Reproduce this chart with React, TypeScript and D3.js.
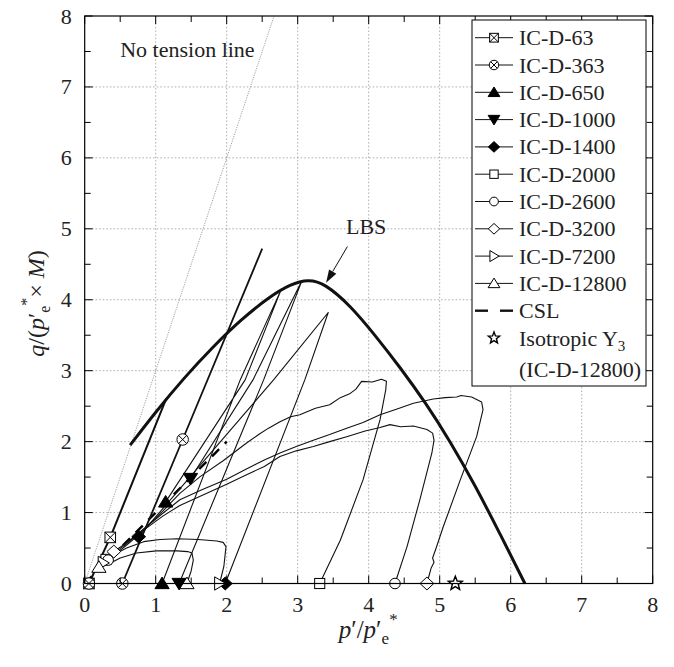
import React from 'react';
import * as d3 from 'd3';

type P = [number, number];

// ---------- data ----------
const xTickValues = [0, 1, 2, 3, 4, 5, 6, 7, 8];
const yTickValues = [0, 1, 2, 3, 4, 5, 6, 7, 8];

const lbsCurve: P[] = [
  [0.64, 1.95], [1.0, 2.42], [1.4, 2.9], [1.8, 3.33], [2.2, 3.72], [2.6, 4.04], [2.9, 4.22],
  [3.15, 4.29], [3.38, 4.23], [3.74, 3.92], [4.09, 3.5], [4.44, 3.05], [4.8, 2.55],
  [5.15, 2.0], [5.5, 1.38], [5.85, 0.7], [6.2, 0],
];
const noTensionLine: P[] = [[0, 0], [2.667, 8]];
const cslLine: P[] = [[0, 0], [2.0, 2.0]];

const path63: P[] = [[0.06, 0], [0.36, 0.65], [1.15, 2.61]];
const path363: P[] = [[0.53, 0], [1.38, 2.03], [2.5, 4.72]];
const path650: P[] = [[1.09, 0], [2.19, 2.87], [2.77, 4.15], [2.26, 2.87], [1.14, 1.15]];
const path1000: P[] = [[1.33, 0], [2.52, 2.87], [3.06, 4.27], [2.37, 2.87], [1.49, 1.48]];
const path1400: P[] = [[1.98, 0], [3.1, 2.87], [3.43, 3.82], [2.66, 2.87], [0.76, 0.66]];
const path2000: P[] = [
  [3.31, 0], [3.6, 0.61], [3.92, 1.46], [4.16, 2.31], [4.24, 2.73], [4.25, 2.85], [4.18, 2.88],
  [4.05, 2.84], [3.9, 2.85], [3.82, 2.74], [3.74, 2.68], [3.6, 2.62], [3.45, 2.52], [3.25, 2.47],
  [3.03, 2.38], [2.9, 2.35], [2.75, 2.28], [2.59, 2.19], [2.45, 2.1], [2.28, 1.98], [1.95, 1.73],
  [1.63, 1.51], [1.34, 1.27], [1.1, 1.02], [0.87, 0.8], [0.6, 0.57], [0.3, 0.34],
];
const path2600: P[] = [
  [4.37, 0], [4.54, 0.52], [4.72, 1.18], [4.89, 1.84], [4.92, 2.02], [4.9, 2.12], [4.82, 2.17],
  [4.63, 2.22], [4.45, 2.21], [4.3, 2.24], [4.16, 2.2], [3.95, 2.15], [3.69, 2.07], [3.45, 2.0],
  [3.22, 1.93], [2.98, 1.87], [2.75, 1.79], [2.53, 1.65], [2.25, 1.52], [2.0, 1.4], [1.65, 1.24],
  [1.34, 1.1], [1.1, 0.95], [0.87, 0.78], [0.6, 0.55], [0.33, 0.33],
];
const path3200: P[] = [
  [4.82, 0], [4.88, 0.22], [4.92, 0.3], [4.9, 0.36], [4.95, 0.5], [5.05, 0.8], [5.29, 1.46],
  [5.52, 2.07], [5.61, 2.45], [5.59, 2.56], [5.45, 2.63], [5.3, 2.65], [5.24, 2.63], [5.08, 2.62],
  [4.91, 2.6], [4.63, 2.54], [4.4, 2.46], [4.16, 2.38], [3.92, 2.27], [3.69, 2.19], [3.45, 2.1],
  [3.22, 2.02], [2.98, 1.93], [2.75, 1.84], [2.53, 1.74], [2.25, 1.6], [2.0, 1.47], [1.65, 1.32],
  [1.34, 1.18], [1.1, 0.99], [0.87, 0.8], [0.6, 0.58], [0.41, 0.45],
];
const path7200: P[] = [
  [1.9, 0], [1.96, 0.24], [1.99, 0.52], [1.95, 0.58], [1.86, 0.6], [1.6, 0.62], [1.3, 0.63],
  [1.06, 0.62], [0.83, 0.59], [0.59, 0.5], [0.4, 0.4], [0.26, 0.29],
];
const path12800: P[] = [
  [1.44, 0], [1.5, 0.18], [1.53, 0.33], [1.51, 0.43], [1.45, 0.45], [1.3, 0.46], [1.01, 0.46],
  [0.73, 0.43], [0.5, 0.36], [0.31, 0.26], [0.2, 0.23],
];

const markers63: P[] = [[0.06, 0], [0.36, 0.65]];
const markers363: P[] = [[0.06, 0], [0.53, 0], [1.38, 2.03]];
const markers650: P[] = [[1.09, 0], [1.14, 1.15]];
const markers1000: P[] = [[1.33, 0], [1.49, 1.48]];
const markers1400: P[] = [[1.98, 0], [0.76, 0.66]];
const markers2000: P[] = [[3.31, 0], [0.3, 0.34]];
const markers2600: P[] = [[4.37, 0], [0.33, 0.33]];
const markers3200: P[] = [[4.82, 0], [0.41, 0.45]];
const markers7200: P[] = [[1.9, 0], [0.26, 0.29]];
const markers12800: P[] = [[1.44, 0], [0.2, 0.23]];
const markersY3: P[] = [[5.22, 0]];

const seriesNames = [
  'IC-D-63', 'IC-D-363', 'IC-D-650', 'IC-D-1000', 'IC-D-1400',
  'IC-D-2000', 'IC-D-2600', 'IC-D-3200', 'IC-D-7200', 'IC-D-12800',
];
const seriesPaths = [path63, path363, path650, path1000, path1400, path2000, path2600, path3200, path7200, path12800];
const seriesMarkers = [markers63, markers363, markers650, markers1000, markers1400, markers2000, markers2600, markers3200, markers7200, markers12800];
const seriesSymbols = ['sqx', 'cirx', 'triUpF', 'triDownF', 'diamondF', 'sq', 'cir', 'diamond', 'triRight', 'triUp'];

const lbsLabelPos: P = [3.68, 4.93];
const lbsArrowFrom: P = [3.7, 4.75];
const lbsArrowTo: P = [3.4, 4.24];
const noTensionLabelPos: P = [0.5, 7.42];

// ---------- drawing ----------
const W = 674, H = 667;
const L = 84.7, R = 652.7, T = 16, B = 583.5;
const FONT = '"Liberation Serif", "Times New Roman", serif';

function Marker({ type, cx, cy, s = 1 }: { type: string; cx: number; cy: number; s?: number }) {
  const k = s;
  const st = { stroke: '#000', strokeWidth: 1 };
  switch (type) {
    case 'sqx': {
      const h = 4.6 * k;
      return (
        <g {...st} fill="#fff">
          <rect x={cx - h} y={cy - h} width={2 * h} height={2 * h} />
          <path d={`M${cx - h},${cy - h}L${cx + h},${cy + h}M${cx + h},${cy - h}L${cx - h},${cy + h}`} />
        </g>
      );
    }
    case 'cirx': {
      const r = 5 * k;
      const d = r * 0.707;
      return (
        <g {...st} fill="#fff">
          <circle cx={cx} cy={cy} r={r} />
          <path d={`M${cx - d},${cy - d}L${cx + d},${cy + d}M${cx + d},${cy - d}L${cx - d},${cy + d}`} />
        </g>
      );
    }
    case 'triUpF':
    case 'triUp': {
      const w = 6.2 * k, h = 5.6 * k;
      return <path {...st} fill={type === 'triUpF' ? '#000' : '#fff'} d={`M${cx},${cy - h}L${cx + w},${cy + h * 0.8}L${cx - w},${cy + h * 0.8}Z`} />;
    }
    case 'triDownF': {
      const w = 6.2 * k, h = 5.6 * k;
      return <path {...st} fill="#000" d={`M${cx},${cy + h}L${cx + w},${cy - h * 0.8}L${cx - w},${cy - h * 0.8}Z`} />;
    }
    case 'triRight': {
      const w = 5.4 * k, h = 5.8 * k;
      return <path {...st} fill="#fff" d={`M${cx + w},${cy}L${cx - w * 0.8},${cy - h}L${cx - w * 0.8},${cy + h}Z`} />;
    }
    case 'diamondF':
    case 'diamond': {
      const w = 6 * k, h = 5.6 * k;
      return <path {...st} fill={type === 'diamondF' ? '#000' : '#fff'} d={`M${cx},${cy - h}L${cx + w},${cy}L${cx},${cy + h}L${cx - w},${cy}Z`} />;
    }
    case 'sq': {
      const h = 4.4 * k;
      return <rect {...st} fill="#fff" x={cx - h} y={cy - h} width={2 * h} height={2 * h} />;
    }
    case 'cir':
      return <circle {...st} fill="#fff" cx={cx} cy={cy} r={4.6 * k} />;
    case 'star': {
      const ro = 7 * k, ri = 3 * k;
      const pts = d3.range(10).map((i) => {
        const a = -Math.PI / 2 + (i * Math.PI) / 5;
        const r = i % 2 === 0 ? ro : ri;
        return [cx + r * Math.cos(a), cy + r * Math.sin(a)];
      });
      return <path stroke="#000" strokeWidth={1.4} fill="#fff" d={'M' + pts.map((p) => p.join(',')).join('L') + 'Z'} />;
    }
    default:
      return null;
  }
}

export default function App() {
  const x = d3.scaleLinear().domain([0, 8]).range([L, R]);
  const y = d3.scaleLinear().domain([0, 8]).range([B, T]);
  const line = d3.line<P>().x((d) => x(d[0])).y((d) => y(d[1]));
  const smooth = d3.line<P>().x((d) => x(d[0])).y((d) => y(d[1])).curve(d3.curveBasis);

  const minor = d3.range(0, 8.001, 0.5);
  const gridX = xTickValues.filter((v) => v > 0 && v < 8);
  const gridY = yTickValues.filter((v) => v > 0 && v < 8);

  const thick: Record<string, number> = { 'IC-D-63': 2, 'IC-D-363': 1.8 };

  // legend layout
  const legX = 472, legY = 20, legW = 174, legH = 366;
  const rowY0 = 37.7, rowDy = 27.3;
  const symX = 494, lineX0 = 475, lineX1 = 513, textX = 519;

  const ax = x(lbsArrowFrom[0]), ay = y(lbsArrowFrom[1]);
  const tx = x(lbsArrowTo[0]), ty = y(lbsArrowTo[1]);
  const ang = Math.atan2(ty - ay, tx - ax);
  const ahL = 13, ahW = 4.2;
  const bx = tx - ahL * Math.cos(ang), by = ty - ahL * Math.sin(ang);
  const arrowHead = `M${tx},${ty}L${bx + ahW * Math.sin(ang)},${by - ahW * Math.cos(ang)}L${bx - ahW * Math.sin(ang)},${by + ahW * Math.cos(ang)}Z`;

  // LBS with exact end points (basis keeps ends)
  return (
    <svg width={W} height={H} style={{ position: 'absolute', left: 0, top: 0, background: '#fff' }} fontFamily={FONT}>
      <rect x={0} y={0} width={W} height={H} fill="#fff" />
      {/* grid */}
      <g stroke="#9a9a9a" strokeWidth={0.8} strokeDasharray="1.6,2">
        {gridX.map((v) => <line key={'gx' + v} x1={x(v)} x2={x(v)} y1={T} y2={B} />)}
        {gridY.map((v) => <line key={'gy' + v} x1={L} x2={R} y1={y(v)} y2={y(v)} />)}
      </g>
      {/* no tension line */}
      <path d={line(noTensionLine) || ''} stroke="#888" strokeWidth={0.8} strokeDasharray="1.2,1.2" fill="none" />
      <text x={x(noTensionLabelPos[0])} y={y(noTensionLabelPos[1])} fontSize={22} fill="#222">No tension line</text>
      {/* CSL */}
      <path d={line(cslLine) || ''} stroke="#000" strokeWidth={2.4} strokeDasharray="10,8" fill="none" />
      {/* test paths */}
      {seriesPaths.map((pts, i) => (
        <path key={'p' + i} d={line(pts) || ''} fill="none" stroke="#111" strokeWidth={thick[seriesNames[i]] || 1.1} strokeLinejoin="round" />
      ))}
      {/* LBS */}
      <path d={smooth(lbsCurve) || ''} fill="none" stroke="#111" strokeWidth={3} />
      <text x={x(lbsLabelPos[0])} y={y(lbsLabelPos[1])} fontSize={22} fill="#222">LBS</text>
      <line x1={ax} y1={ay} x2={bx} y2={by} stroke="#111" strokeWidth={1} />
      <path d={arrowHead} fill="#111" />
      {/* markers */}
      {seriesMarkers.map((pts, i) =>
        pts.map((p, j) => <Marker key={'m' + i + '-' + j} type={seriesSymbols[i]} cx={x(p[0])} cy={y(p[1])} s={1.15} />)
      )}
      {markersY3.map((p, j) => <Marker key={'y3' + j} type="star" cx={x(p[0])} cy={y(p[1])} s={1.05} />)}
      {/* frame */}
      <rect x={L} y={T} width={R - L} height={B - T} fill="none" stroke="#000" strokeWidth={1.2} />
      {/* ticks */}
      <g stroke="#000" strokeWidth={1}>
        {minor.map((v) => {
          const len = Number.isInteger(v) ? 8 : 6;
          return (
            <g key={'t' + v}>
              <line x1={x(v)} x2={x(v)} y1={B} y2={B - len} />
              <line x1={x(v)} x2={x(v)} y1={T} y2={T + len} />
              <line x1={L} x2={L + len} y1={y(v)} y2={y(v)} />
              <line x1={R} x2={R - len} y1={y(v)} y2={y(v)} />
            </g>
          );
        })}
      </g>
      {/* tick labels */}
      <g fontSize={22} fill="#222">
        {xTickValues.map((v) => (
          <text key={'xl' + v} x={x(v)} y={B + 28} textAnchor="middle">{v}</text>
        ))}
        {yTickValues.map((v) => (
          <text key={'yl' + v} x={L - 13} y={y(v) + 7.5} textAnchor="end">{v}</text>
        ))}
      </g>
      {/* axis titles */}
      <text x={(L + R) / 2 - 30} y={638} fontSize={25} fill="#222">
        <tspan fontStyle="italic">p</tspan>
        <tspan>′/</tspan>
        <tspan fontStyle="italic">p</tspan>
        <tspan>′</tspan>
        <tspan fontSize={17} dy={6}>e</tspan>
        <tspan fontSize={17} dy={-19}>*</tspan>
      </text>
      <text transform={`translate(44,${(T + B) / 2 + 57}) rotate(-90)`} fontSize={24} fill="#222">
        <tspan fontStyle="italic">q</tspan>
        <tspan>/(</tspan>
        <tspan fontStyle="italic">p</tspan>
        <tspan>′</tspan>
        <tspan fontSize={16} dy={6}>e</tspan>
        <tspan fontSize={16} dy={-18}>*</tspan>
        <tspan dy={12}>× </tspan>
        <tspan fontStyle="italic">M</tspan>
        <tspan>)</tspan>
      </text>
      {/* legend */}
      <rect x={legX} y={legY} width={legW} height={legH} fill="#fff" stroke="#000" strokeWidth={1} />
      {seriesNames.map((name, i) => {
        const cy = rowY0 + i * rowDy;
        return (
          <g key={'lg' + i}>
            <line x1={lineX0} x2={lineX1} y1={cy} y2={cy} stroke="#111" strokeWidth={1} />
            <Marker type={seriesSymbols[i]} cx={symX} cy={cy} s={0.95} />
            <text x={textX} y={cy + 7.5} fontSize={22} fill="#222">{name}</text>
          </g>
        );
      })}
      {(() => {
        const cy = rowY0 + 10 * rowDy;
        return (
          <g>
            <line x1={lineX0} x2={lineX0 + 13} y1={cy} y2={cy} stroke="#111" strokeWidth={2.4} />
            <line x1={lineX1 - 13} x2={lineX1} y1={cy} y2={cy} stroke="#111" strokeWidth={2.4} />
            <text x={textX} y={cy + 7.5} fontSize={22} fill="#222">CSL</text>
          </g>
        );
      })()}
      {(() => {
        const cy = rowY0 + 11 * rowDy;
        return (
          <g>
            <Marker type="star" cx={symX} cy={cy} s={0.85} />
            <text x={textX} y={cy + 7.5} fontSize={22} fill="#222">
              Isotropic Y<tspan fontSize={15} dy={5}>3</tspan>
            </text>
            <text x={textX} y={cy + 39} fontSize={22} fill="#222">(IC-D-12800)</text>
          </g>
        );
      })()}
    </svg>
  );
}
